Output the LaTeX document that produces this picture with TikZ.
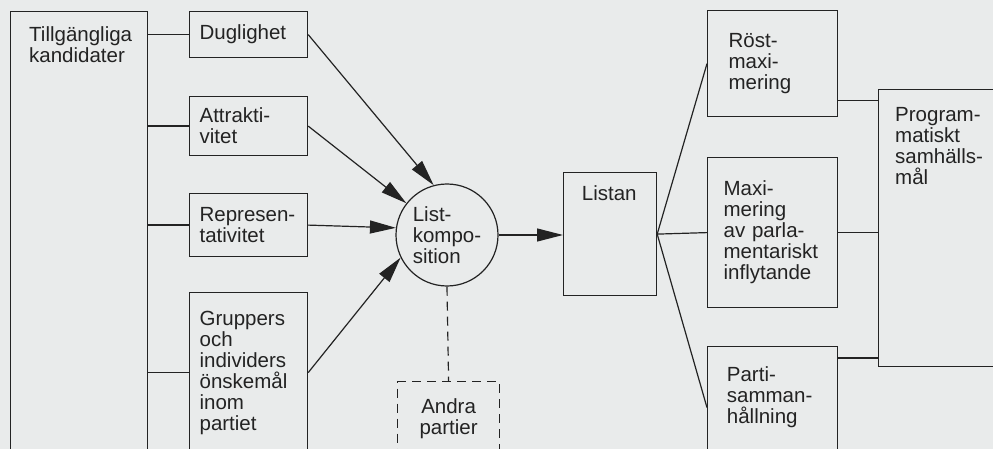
\documentclass[tikz,border=0pt]{standalone}
\usepackage{fontspec}
\setmainfont{Liberation Sans}
\usepackage{tikz}
\usetikzlibrary{positioning, arrows.meta}
\definecolor{ink}{RGB}{35,35,35}
\definecolor{paper}{RGB}{233,235,235}

\begin{document}
\begin{tikzpicture}[x=1pt, y=1pt,
            box/.style={draw=ink, line width=1.2pt, anchor=north west, inner sep=0pt,
              align=left, text=ink, font=\fontsize{20.5}{21}\selectfont},
            txt/.style={inner sep=0pt, align=left, text=ink, font=\fontsize{20.5}{21}\selectfont},
            rund/.style={circle, draw=ink, line width=1.2pt, minimum size=102pt, inner sep=0pt,
              align=left, text=ink, font=\fontsize{20.5}{21}\selectfont},
            ln/.style={draw=ink, line width=1.2pt},
            ->/.style={-{Triangle[length=26pt, width=13pt]}, draw=ink, line width=1.2pt}]
          \useasboundingbox (0,0) rectangle (993,-449);
          \clip (0,0) rectangle (993,-449);
          \fill[paper] (0,0) rectangle (993,-449);
          % candidates and their qualities
          \node[box, minimum width=137pt, minimum height=470pt] (till) at (10,-11) {};
          \node[txt, below right=15pt and 19pt of till.north west] (tilltxt) {Tillgängliga\\kandidater};
          \node[box, minimum width=118pt, minimum height=46pt, text width=98pt] (dug) at (189,-11) {Duglighet};
          \node[box, minimum width=118pt, minimum height=59pt, text width=98pt] (att) at (189,-96) {Attrakti-\\vitet};
          \node[box, minimum width=118pt, minimum height=63pt, text width=98pt] (rep) at (189,-193) {Represen-\\tativitet};
          \node[box, minimum width=118pt, minimum height=160pt, text width=98pt] (grp) at (189,-292)
            {Gruppers\\och\\individers\\önskemål\\inom\\partiet};
          % the list
          \node[rund] (lk) at (447,-235) {List-\\kompo-\\sition};
          \node[box, minimum width=102pt, minimum height=74pt, align=center, dash pattern=on 9pt off 6pt] (andra) at (397,-381) {Andra\\partier};
          \node[box, minimum width=93pt, minimum height=123pt] (listan) at (563,-172) {};
          \node[txt, below right=13.5pt and 18.7pt of listan.north west] (listantxt) {Listan};
          % goals
          \node[box, minimum width=130pt, minimum height=106pt, text width=88pt] (rost) at (707,-10) {Röst-\\maxi-\\mering};
          \node[box, minimum width=130pt, minimum height=150pt, text width=98pt] (maxi) at (707,-157)
            {Maxi-\\mering\\av parla-\\mentariskt\\inflytande};
          \node[box, minimum width=130pt, minimum height=122pt] (parti) at (707,-346) {};
          \node[txt, below right=20.5pt and 19.7pt of parti.north west] (partitxt) {Parti-\\samman-\\hållning};
          \node[box, minimum width=140pt, minimum height=277pt] (prog) at (878,-89) {};
          \node[txt, below right=18.5pt and 17pt of prog.north west] (progtxt) {Program-\\matiskt\\samhälls-\\mål};

          \draw[ln] (dug.west -| till.east) -- (dug.west);
          \draw[ln] (att.west -| till.east) -- (att.west);
          \draw[ln] (rep.west -| till.east) -- (rep.west);
          \draw[ln] (grp.west -| till.east) -- (grp.west);
          \draw[->] (dug.east) -- (lk.105);
          \draw[->] (att.east) -- (lk.142);
          \draw[->] (rep.east) -- (lk.172);
          \draw[->] (grp.east) -- (lk.206);
          \draw[->] (lk.east) -- (lk.east -| listan.west);
          \draw[ln, dash pattern=on 9pt off 6pt] (lk.south) -- (andra.north);
          \draw[ln] (listan.east) -- (rost.west);
          \draw[ln] (listan.east) -- (maxi.west);
          \draw[ln] (listan.east) -- (parti.west);
          \coordinate (r1) at ([yshift=17pt]rost.south east);
          \coordinate (p1) at ([yshift=-12pt]parti.north east);
          \draw[ln] (r1) -- (r1 -| prog.west);
          \draw[ln] (maxi.east) -- (maxi.east -| prog.west);
          \draw[ln] (p1) -- (p1 -| prog.west);
        \end{tikzpicture}
\end{document}
